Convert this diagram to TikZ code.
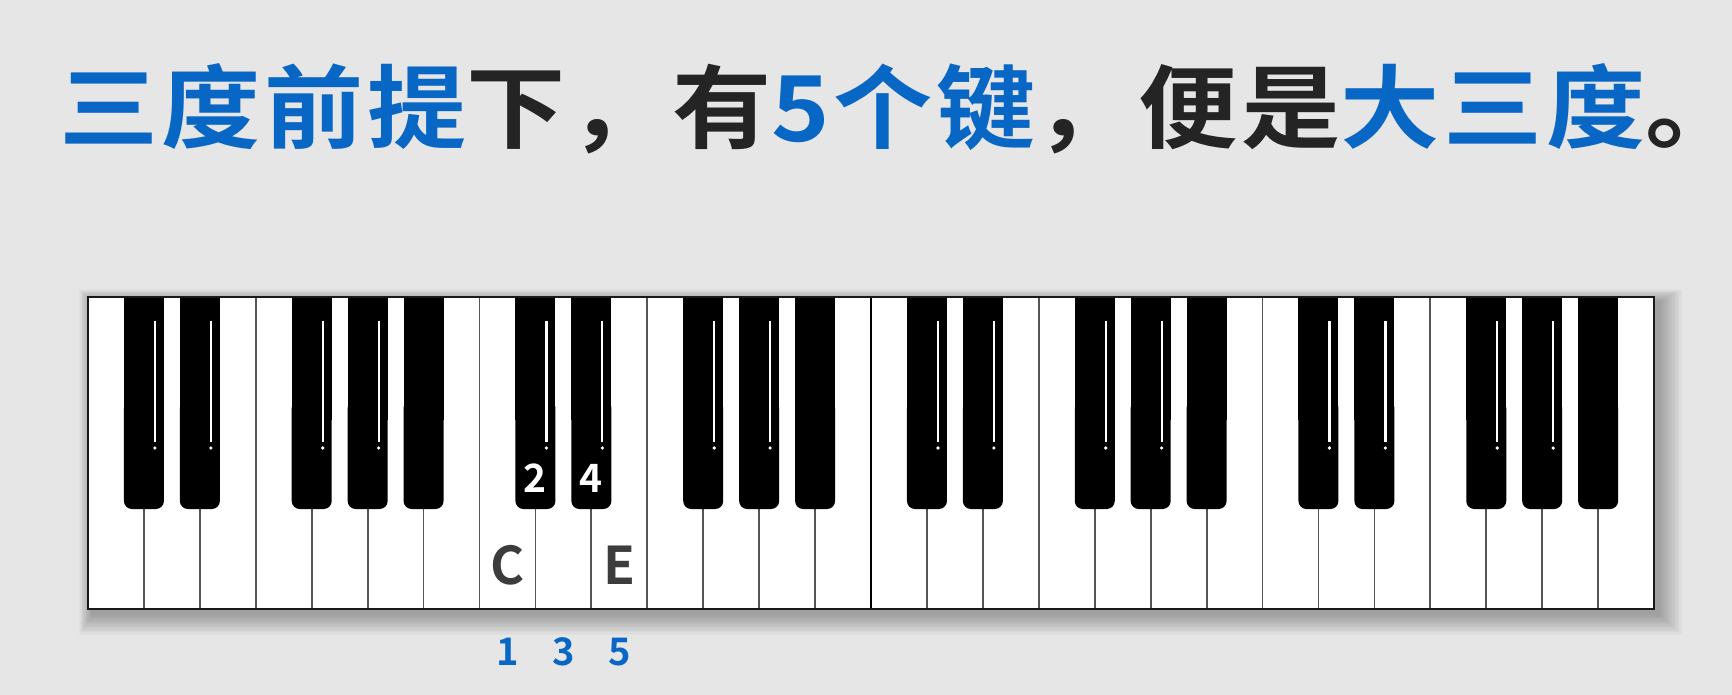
\documentclass[tikz,border=0pt]{standalone}
\usepackage{fontspec}
\setmainfont{Noto Sans CJK SC}
\newfontfamily\cjkbold{Noto Sans CJK SC Bold}
\newfontfamily\cjktitle{Noto Sans CJK SC Bold}[FakeStretch=1.09, LetterSpace=4]
\definecolor{bg}{RGB}{230,230,230}
\definecolor{tblue}{RGB}{8,102,196}
\definecolor{tdark}{RGB}{36,36,36}
\definecolor{lgray}{RGB}{60,60,60}
\definecolor{divgray}{RGB}{85,85,85}
\tikzset{
  divline/.style={draw=divgray, line width=1.8pt},
  blackkey/.style={fill=black},
  keyshine/.style={draw=white, line width=2.2pt},
  numwhite/.style={inner sep=0pt, anchor=base, text=white, font=\fontsize{39}{40}\cjkbold},
  notelabel/.style={inner sep=0pt, anchor=base, text=lgray, font=\fontsize{52}{54}\cjkbold},
  numblue/.style={inner sep=0pt, anchor=base, text=tblue, font=\fontsize{38}{40}\cjkbold},
}
\begin{document}
\begin{tikzpicture}[x=1pt,y=-1pt]
\fill[bg] (0,0) rectangle (1732,695);
\useasboundingbox (0,0) rectangle (1732,695);
% title
\node[inner sep=0pt, anchor=base west, text=tdark, font=\fontsize{91}{100}\cjktitle] (title) at (59,141.5)
  {{\color{tblue}三度前提}下，有{\color{tblue}5个键}，便是{\color{tblue}大三度}。};
% shadow
\foreach \i in {1,...,16} {
  \fill[black, opacity=0.018] (88-\i*0.8+4, 297-\i*0.8+5) rectangle (1654+\i*1.5+4, 609+\i*1.3+5);
}
% keyboard
\fill[white] (88,297) rectangle (1654,609);
\foreach \k in {1,...,27} {
  \draw[divline] (88+\k*55.93,297) -- (88+\k*55.93,609);
}
\draw[draw=black, line width=2.6pt] (88+14*55.93,297) -- (88+14*55.93,609);
% black keys
\foreach \o in {0,1,2,3} {
  \foreach \d in {0,1,3,4,5} {
    \pgfmathsetmacro{\cx}{88+(7*\o+\d+1)*55.93}
    \fill[blackkey] (\cx-20,298) rectangle (\cx+20,420);
    \fill[blackkey, rounded corners=8pt] (\cx-20,400) rectangle (\cx+20,509);
    \ifnum\d<5
      \draw[keyshine] (\cx+11,321) -- (\cx+11,442);
      \fill[white] (\cx+11,448) circle (1.8);
    \fi
  }
}
\draw[draw=black!90, line width=2.6pt] (88,297) rectangle (1654,609);
% labels
\node[numwhite] (n2) at (535.4,492) {2};
\node[numwhite] (n4) at (591.4,492) {4};
\node[notelabel] (nC) at (507.5,584) {C};
\node[notelabel] (nE) at (619.3,584) {E};
\node[numblue] (b1) at (507.5,665) {1};
\node[numblue] (b3) at (563.4,665) {3};
\node[numblue] (b5) at (619.3,665) {5};
\end{tikzpicture}
\end{document}
